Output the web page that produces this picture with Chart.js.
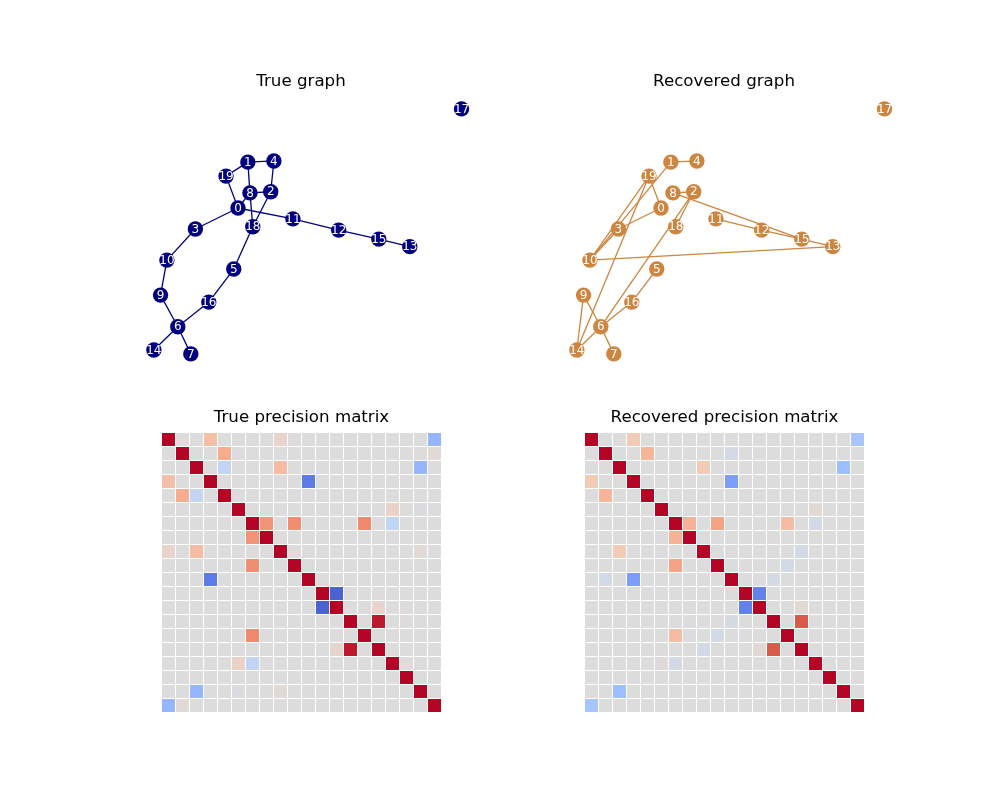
<!DOCTYPE html>
<html>
<head>
<meta charset="utf-8">
<script src="https://cdn.jsdelivr.net/npm/chart.js@4.4.1/dist/chart.umd.min.js"></script>
<style>
  body { margin: 0; background: #fff; }
  #wrap { position: relative; width: 1000px; height: 800px; }
  canvas { position: absolute; }
</style>
</head>
<body>
<div id="wrap">
  <canvas id="trueGraph" width="352" height="310" style="left:125px;top:66px"></canvas>
  <canvas id="recGraph" width="352" height="310" style="left:548px;top:66px"></canvas>
  <canvas id="trueMatrix" width="282" height="312" style="left:161px;top:402px"></canvas>
  <canvas id="recMatrix" width="282" height="312" style="left:584px;top:402px"></canvas>
</div>
<script>
// node layout (same for both graphs), index = node id
const nodeIds = [0, 1, 2, 3, 4, 5, 6, 7, 8, 9, 10, 11, 12, 13, 14, 15, 16, 17, 18, 19];
const layoutX = [0.321, 0.349, 0.414, 0.200, 0.423, 0.309, 0.150, 0.187, 0.355, 0.101,
                 0.119, 0.477, 0.607, 0.809, 0.082, 0.721, 0.238, 0.956, 0.363, 0.287];
const layoutY = [0.600, 0.764, 0.658, 0.525, 0.768, 0.382, 0.176, 0.079, 0.654, 0.289,
                 0.414, 0.561, 0.521, 0.462, 0.093, 0.489, 0.264, 0.954, 0.533, 0.714];

const trueEdges = [[0, 3], [0, 8], [0, 11], [0, 19], [1, 4], [1, 8], [1, 19], [2, 4], [2, 8],
                   [2, 18], [3, 10], [5, 16], [5, 18], [6, 7], [6, 9], [6, 14], [6, 16], [8, 18],
                   [9, 10], [11, 12], [12, 15], [13, 15]];
const recoveredEdges = [[0, 3], [0, 19], [1, 4], [1, 10], [2, 6], [2, 8], [2, 18], [3, 10],
                        [5, 16], [6, 7], [6, 9], [6, 14], [6, 16], [8, 15], [9, 14], [10, 13],
                        [10, 19], [11, 12], [12, 15], [13, 15], [14, 19]];

// off-diagonal entries [row, col, value] (symmetric), diagonal = 1
const truePrecision = [[0, 3, 0.28], [0, 8, 0.1], [0, 19, -0.45], [1, 4, 0.4], [1, 19, 0.03],
                       [2, 4, -0.18], [2, 8, 0.3], [2, 18, -0.45], [3, 10, -0.78], [5, 16, 0.12],
                       [5, 18, -0.02], [6, 7, 0.52], [6, 9, 0.55], [6, 14, 0.57], [6, 16, -0.2],
                       [8, 18, 0.04], [11, 12, -0.9], [12, 15, 0.08], [13, 15, 0.95]];
const recoveredPrecision = [[0, 3, 0.2], [0, 19, -0.35], [1, 4, 0.35], [1, 10, -0.07], [2, 8, 0.2],
                            [2, 18, -0.4], [3, 10, -0.6], [5, 16, 0.02], [6, 7, 0.36], [6, 9, 0.45],
                            [6, 14, 0.3], [6, 16, -0.07], [8, 15, -0.07], [9, 14, -0.07],
                            [10, 13, -0.05], [11, 12, -0.75], [12, 15, 0.04], [13, 15, 0.77]];

const N = nodeIds.length;

const coolwarmStops = ["#3b4cc0", "#5977e3", "#7b9ff9", "#9ebeff", "#c0d4f5", "#dddcdc",
                       "#f2cbb7", "#f7ac8e", "#ee8468", "#d65244", "#b40426"];
const hex = (h) => [1, 3, 5].map((k) => parseInt(h.slice(k, k + 2), 16));
function coolwarm(v) {
  let t = (v + 1) / 2;
  t = Math.max(0, Math.min(1, t));
  const p = t * (coolwarmStops.length - 1);
  const i = Math.min(Math.floor(p), coolwarmStops.length - 2);
  const f = p - i;
  const a = hex(coolwarmStops[i]);
  const b = hex(coolwarmStops[i + 1]);
  const c = a.map((x, k) => Math.round(x + (b[k] - x) * f));
  return `rgb(${c[0]},${c[1]},${c[2]})`;
}

const titleOpts = (text, bottom) => ({
  display: true,
  text: text,
  color: "#000",
  font: { family: "DejaVu Sans", size: 16.67, weight: "normal", lineHeight: 1.2 },
  padding: { top: 6, bottom: bottom },
});

const nodeLabels = {
  id: "nodeLabels",
  afterDatasetsDraw(chart) {
    const ctx = chart.ctx;
    const meta = chart.getDatasetMeta(0);
    ctx.save();
    ctx.fillStyle = "#fff";
    ctx.font = '12px "DejaVu Sans"';
    ctx.textAlign = "center";
    ctx.textBaseline = "middle";
    meta.data.forEach((pt, i) => {
      ctx.fillText(String(nodeIds[i]), pt.x, pt.y + 0.5);
    });
    ctx.restore();
  },
};

function makeGraph(id, title, edges, color) {
  const nodes = nodeIds.map((n) => ({ x: layoutX[n], y: layoutY[n] }));
  const datasets = [
    {
      data: nodes,
      backgroundColor: color,
      borderWidth: 0,
      pointRadius: 7.7,
      pointHoverRadius: 7.7,
      clip: false,
    },
  ];
  edges.forEach(([a, b]) => {
    datasets.push({
      data: [
        { x: layoutX[a], y: layoutY[a] },
        { x: layoutX[b], y: layoutY[b] },
      ],
      showLine: true,
      borderColor: color,
      borderWidth: 1.3,
      pointRadius: 0,
      clip: false,
    });
  });
  new Chart(document.getElementById(id), {
    type: "scatter",
    data: { datasets: datasets },
    options: {
      responsive: false,
      animation: false,
      events: [],
      layout: { padding: 0, autoPadding: false },
      plugins: { legend: { display: false }, tooltip: { enabled: false }, title: titleOpts(title, 4) },
      scales: {
        x: { type: "linear", min: 0, max: 1, display: false },
        y: { type: "linear", min: 0, max: 1, display: false },
      },
    },
    plugins: [nodeLabels],
  });
}

function makeMatrix(id, title, entries) {
  const m = [];
  for (let i = 0; i < N; i++) {
    m.push(new Array(N).fill(0));
    m[i][i] = 1;
  }
  entries.forEach(([i, j, v]) => {
    m[i][j] = v;
    m[j][i] = v;
  });
  const cells = [];
  for (let i = 0; i < N; i++) {
    for (let j = 0; j < N; j++) cells.push({ x: j, y: i, v: m[i][j] });
  }
  new Chart(document.getElementById(id), {
    type: "scatter",
    data: {
      datasets: [
        {
          data: cells,
          pointStyle: "rect",
          pointRadius: 13 / Math.SQRT2,
          pointHoverRadius: 13 / Math.SQRT2,
          borderWidth: 0,
          backgroundColor: (ctx) => coolwarm(ctx.raw ? ctx.raw.v : 0),
          clip: false,
        },
      ],
    },
    options: {
      responsive: false,
      animation: false,
      events: [],
      layout: { padding: { left: 0.5, right: 1.5, top: 0, bottom: 1.5 }, autoPadding: false },
      plugins: { legend: { display: false }, tooltip: { enabled: false }, title: titleOpts(title, 4.5) },
      scales: {
        x: { type: "linear", min: -0.5, max: N - 0.5, display: false },
        y: { type: "linear", min: -0.5, max: N - 0.5, reverse: true, display: false },
      },
    },
  });
}

makeGraph("trueGraph", "True graph", trueEdges, "#000080");
makeGraph("recGraph", "Recovered graph", recoveredEdges, "#cd853f");
makeMatrix("trueMatrix", "True precision matrix", truePrecision);
makeMatrix("recMatrix", "Recovered precision matrix", recoveredPrecision);
</script>
</body>
</html>
